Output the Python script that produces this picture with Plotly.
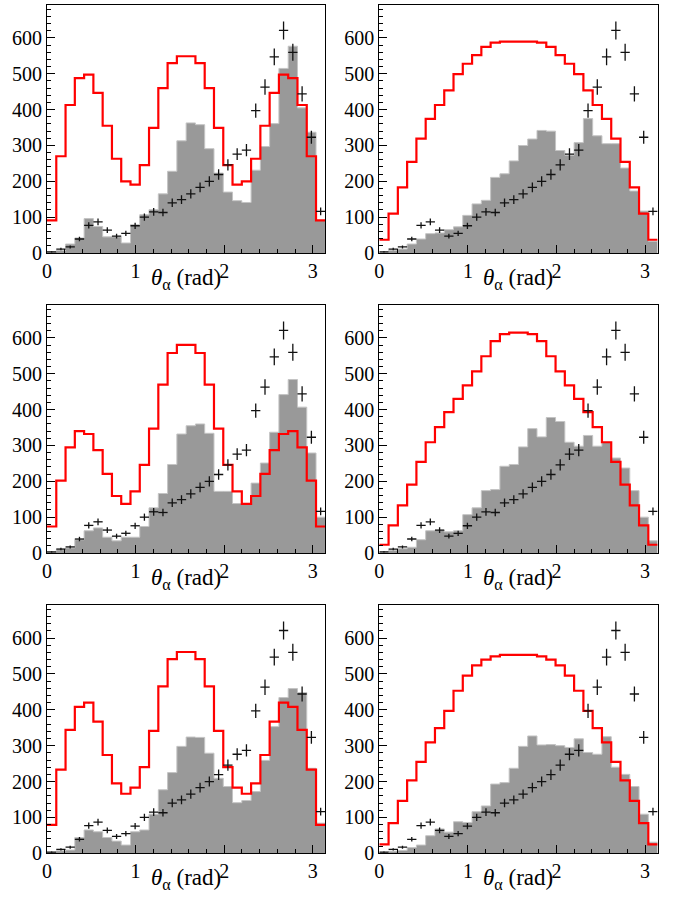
import numpy as np
import plotly.graph_objects as go

# ---------------- data ----------------
n_bins = 30
x_min, x_max = 0.0, np.pi

# measured data (identical in all panels)
data = [3, 11, 17, 39, 77, 87, 64, 47, 55, 76, 100, 115, 113, 140, 149, 165, 183, 200,
        219, 246, 276, 287, 397, 463, 547, 621, 560, 444, 323, 116]

# gray filled histograms (one per panel)
gray_1 = [3, 7, 25, 42, 96, 74, 45, 45, 28, 79, 107, 121, 165, 228, 313, 363, 358, 291,
          223, 170, 146, 141, 231, 297, 361, 515, 577, 405, 337, 91]
gray_2 = [2, 7, 11, 25, 39, 54, 56, 65, 73, 105, 137, 147, 211, 221, 257, 300, 318, 342,
          340, 286, 273, 308, 375, 327, 305, 305, 237, 173, 117, 33]
gray_3 = [2, 9, 14, 37, 62, 70, 44, 34, 44, 44, 74, 126, 166, 247, 332, 355, 360, 334,
          172, 172, 138, 138, 195, 251, 337, 442, 484, 407, 279, 100]
gray_4 = [2, 7, 12, 16, 37, 62, 64, 59, 62, 107, 126, 174, 177, 242, 247, 296, 347, 324,
          378, 367, 309, 298, 328, 298, 309, 265, 237, 174, 100, 34]
gray_5 = [2, 7, 9, 44, 65, 60, 44, 34, 23, 60, 65, 109, 177, 225, 298, 324, 323, 279,
          209, 186, 141, 147, 172, 259, 353, 434, 459, 448, 237, 84]
gray_6 = [2, 6, 8, 16, 23, 49, 68, 59, 88, 86, 116, 132, 193, 197, 237, 298, 327, 302,
          303, 300, 295, 319, 281, 276, 325, 240, 220, 186, 109, 31]

# red model histograms (one per panel)
red_1 = [91, 270, 413, 488, 498, 447, 355, 263, 200, 191, 245, 349, 460, 530, 549, 549,
         530, 460, 349, 245, 191, 200, 263, 355, 447, 498, 488, 413, 270, 91]
red_2 = [37, 110, 183, 254, 319, 374, 413, 454, 499, 528, 552, 575, 587, 590, 590, 590,
         590, 587, 575, 552, 528, 499, 454, 413, 374, 319, 254, 183, 110, 37]
red_3 = [74, 202, 295, 340, 332, 287, 221, 159, 137, 172, 246, 347, 470, 558, 581, 581,
         558, 470, 347, 246, 172, 137, 159, 221, 287, 332, 340, 295, 202, 74]
red_4 = [23, 77, 133, 191, 254, 309, 351, 393, 430, 468, 507, 549, 591, 611, 615, 615,
         611, 591, 549, 507, 468, 430, 393, 351, 309, 254, 191, 133, 77, 23]
red_5 = [79, 233, 344, 408, 420, 367, 274, 195, 166, 183, 240, 341, 465, 541, 561, 561,
         541, 465, 341, 240, 183, 166, 195, 274, 367, 420, 408, 344, 233, 79]
red_6 = [25, 84, 146, 203, 255, 309, 349, 397, 453, 495, 524, 540, 549, 553, 553, 553,
         553, 549, 540, 524, 495, 453, 397, 349, 309, 255, 203, 146, 84, 25]

grays = [gray_1, gray_2, gray_3, gray_4, gray_5, gray_6]
reds = [red_1, red_2, red_3, red_4, red_5, red_6]

x_ticks = [0, 1, 2, 3]
x_ticklabels = ["0", "1", "2", "3"]
y_ticks = [0, 100, 200, 300, 400, 500, 600]
y_ticklabels = ["0", "100", "200", "300", "400", "500", "600"]
y_max = 692
axis_title = "<i>θ</i><sub>α</sub> (rad)"

# ---------------- layout geometry ----------------
W, H = 675, 897
col_px = [(47.0, 325.3), (379.3, 657.6)]
row_px = [(5.0, 253.0), (305.0, 553.0), (605.0, 853.3)]

edges = np.linspace(x_min, x_max, n_bins + 1)
centers = 0.5 * (edges[:-1] + edges[1:])
half_w = (x_max - x_min) / n_bins / 2

FONT = "Liberation Serif"

fig = go.Figure()
layout = dict(
    width=W, height=H,
    margin=dict(l=0, r=0, t=0, b=0, autoexpand=False),
    paper_bgcolor="white", plot_bgcolor="white",
    showlegend=False,
    font=dict(family=FONT, color="black"),
)
annotations = []

for i in range(6):
    r, c = divmod(i, 2)
    idx = "" if i == 0 else str(i + 1)
    xa, ya = "x" + idx, "y" + idx
    x0p, x1p = col_px[c]
    y0p, y1p = row_px[r]

    g = grays[i]
    rd = reds[i]
    fig.add_trace(go.Scatter(
        x=edges, y=list(g) + [g[-1]], mode="lines", line_shape="hv",
        line=dict(color="#c4c4c4", width=1), fill="tozeroy", fillcolor="#999999",
        xaxis=xa, yaxis=ya, hoverinfo="skip"))
    fig.add_trace(go.Scatter(
        x=edges, y=list(rd) + [rd[-1]], mode="lines", line_shape="hv",
        line=dict(color="#ff0000", width=2.2),
        xaxis=xa, yaxis=ya, hoverinfo="skip"))
    fig.add_trace(go.Scatter(
        x=centers, y=data, mode="markers",
        marker=dict(size=1, color="black", opacity=0),
        error_x=dict(type="constant", value=half_w, width=0, thickness=1.3, color="#111111"),
        error_y=dict(type="data", array=np.sqrt(data), width=0, thickness=1.3, color="#111111"),
        xaxis=xa, yaxis=ya, hoverinfo="skip"))

    layout["xaxis" + idx] = dict(
        domain=[x0p / W, x1p / W], range=[x_min, x_max], anchor=ya, automargin=False,
        showgrid=False, zeroline=False, showline=True, linecolor="black", linewidth=1,
        mirror=True, ticks="inside", ticklen=8, tickwidth=1, tickcolor="black",
        tickvals=x_ticks, ticktext=x_ticklabels,
        tickfont=dict(family=FONT, size=20, color="black"),
        minor=dict(dtick=0.2, ticks="inside", ticklen=4, tickcolor="black", showgrid=False),
    )
    layout["yaxis" + idx] = dict(
        domain=[1 - y1p / H, 1 - y0p / H], range=[0, y_max], anchor=xa, automargin=False,
        showgrid=False, zeroline=False, showline=True, linecolor="black", linewidth=1,
        mirror=True, ticks="inside", ticklen=8, tickwidth=1, tickcolor="black",
        tickvals=y_ticks, ticktext=y_ticklabels,
        tickfont=dict(family=FONT, size=20, color="black"),
        minor=dict(dtick=20, ticks="inside", ticklen=4, tickcolor="black", showgrid=False),
    )
    annotations.append(dict(
        text=axis_title, xref="paper", yref="paper",
        x=(x0p + x1p) / 2 / W, y=1 - (y1p + 26) / H,
        xanchor="center", yanchor="middle", showarrow=False,
        font=dict(family=FONT, size=23, color="black")))

layout["annotations"] = annotations
fig.update_layout(**layout)
fig.write_html("out.html", config={"displayModeBar": False},
               post_script="document.body.style.margin='0';")
